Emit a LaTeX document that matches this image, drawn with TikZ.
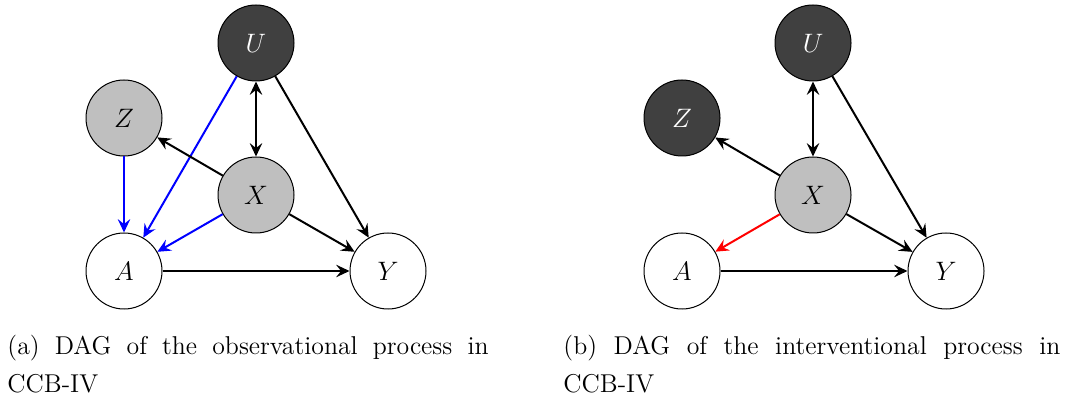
\documentclass[tikz,border=0pt]{standalone}
\usetikzlibrary{arrows.meta}
\begin{document}
\begin{tikzpicture}[x=0.45pt,y=-0.45pt,
  var/.style={circle,draw=black,line width=0.45pt,minimum size=34.2pt,inner sep=0pt,font=\fontsize{12.6}{15}\selectfont},
  obs/.style={var,fill=white},
  cond/.style={var,fill=black!25},
  hid/.style={var,fill=black!75,text=white},
  tip/.style={Stealth[length=6pt,width=5.6pt,inset=2.2pt]},
  edge/.style={-{Stealth[length=6pt,width=5.6pt,inset=2.2pt]},line width=0.9pt},
  bedge/.style={{Stealth[length=6pt,width=5.6pt,inset=2.2pt]}-{Stealth[length=6pt,width=5.6pt,inset=2.2pt]},line width=0.9pt},
  captext/.style={anchor=base west,inner sep=0pt,font=\fontsize{11.6}{14}\selectfont}
]
\useasboundingbox (0,0) rectangle (1067,396);
% left panel
\node[hid]  (U1) at (256,43) {$U$};
\node[cond] (Z1) at (124,118) {$Z$};
\node[cond] (X1) at (256,195) {$X$};
\node[obs]  (A1) at (124,271) {$A$};
\node[obs]  (Y1) at (388,271) {$Y$};
\draw[bedge] (U1) -- (X1);
\draw[edge] (U1) -- (Y1);
\draw[edge,blue] (U1) -- (A1);
\draw[edge] (X1) -- (Z1);
\draw[edge] (X1) -- (Y1);
\draw[edge,blue] (X1) -- (A1);
\draw[edge,blue] (Z1) -- (A1);
\draw[edge] (A1) -- (Y1);
% right panel
\node[hid]  (U2) at (813,43) {$U$};
\node[hid]  (Z2) at (682,118) {$Z$};
\node[cond] (X2) at (813,195) {$X$};
\node[obs]  (A2) at (682,271) {$A$};
\node[obs]  (Y2) at (946,271) {$Y$};
\draw[bedge] (U2) -- (X2);
\draw[edge] (U2) -- (Y2);
\draw[edge] (X2) -- (Z2);
\draw[edge] (X2) -- (Y2);
\draw[edge,red] (X2) -- (A2);
\draw[edge] (A2) -- (Y2);
% captions
\node[captext] (ca1) at (7,355) {\makebox[216.5pt][s]{(a) DAG of the observational process in}};
\node[captext] (ca2) at (7,392) {CCB-IV};
\node[captext] (cb1) at (563,355) {\makebox[223.6pt][s]{(b) DAG of the interventional process in}};
\node[captext] (cb2) at (563,392) {CCB-IV};
\end{tikzpicture}
\end{document}
